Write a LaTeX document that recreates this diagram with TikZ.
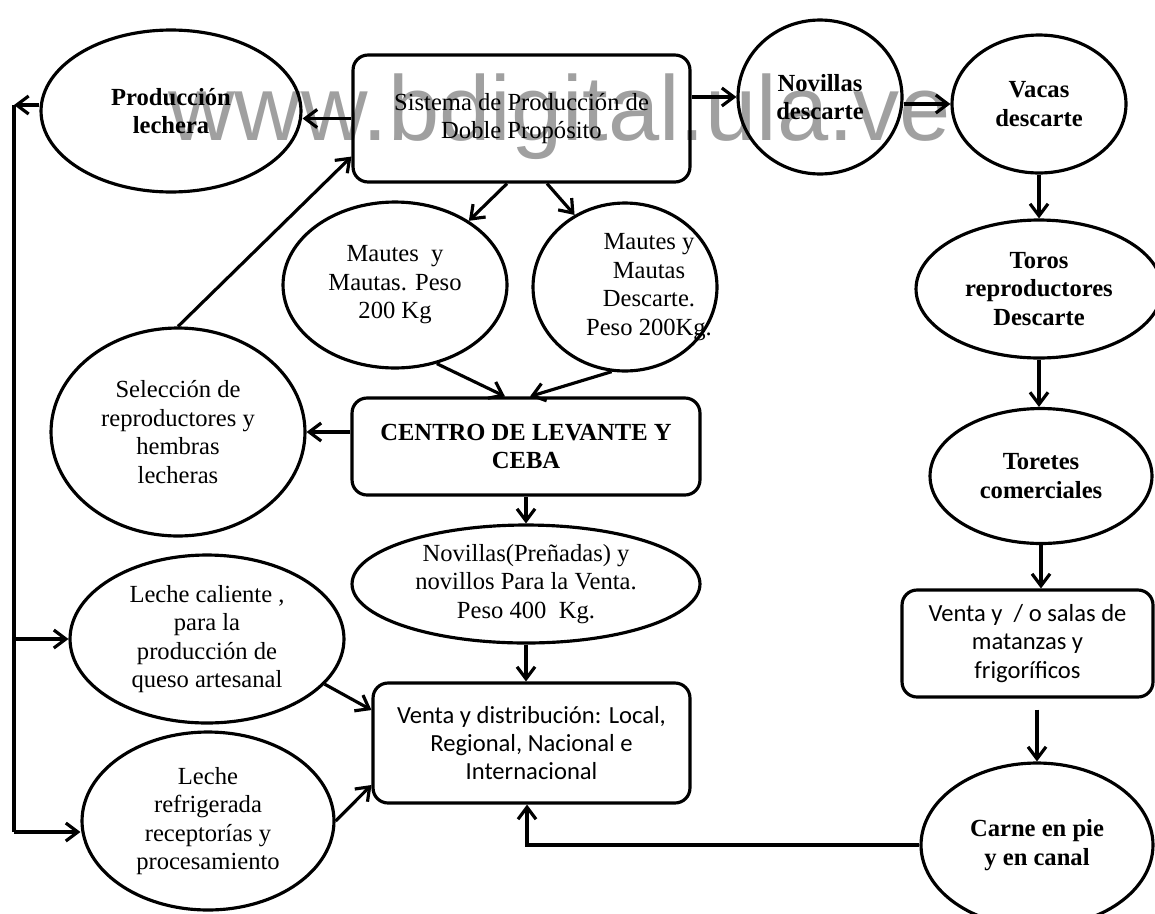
\documentclass[tikz,border=0pt]{standalone}
\usepackage{fontspec}
\setmainfont{Liberation Serif}
\newfontfamily\calfont{Carlito}
\newfontfamily\wmfont{Liberation Sans}
\usetikzlibrary{arrows.meta}
\usetikzlibrary{shapes.geometric}
\definecolor{wmgray}{RGB}{160,160,160}

\begin{document}
\begin{tikzpicture}[x=0.02cm, y=-0.02cm,
  every node/.style={font=\fontsize{14}{16.2}\selectfont, align=center},
  oval/.style={draw, ellipse, line width=1.8pt, inner sep=0pt},
  caja/.style={draw, rectangle, rounded corners=0.3cm, line width=1.8pt, inner sep=0pt},
  bold/.style={font=\fontsize{14}{16.2}\selectfont\bfseries},
  sans/.style={font=\calfont\fontsize{14}{16.2}\selectfont},
  wm/.style={text=wmgray, font=\wmfont\fontsize{52.4}{60}\selectfont, inner sep=0pt},
  flow/.style={line width=1.8pt, -{Straight Barb[length=2.4mm, width=3.6mm]}},
  bus/.style={line width=1.8pt}]
\useasboundingbox (0,0) rectangle (1155,913);

\node[wm, anchor=base west] (wmark) at (168,140) {www.bdigital.ula.ve};

\node[oval, bold, minimum width=5.2cm, minimum height=3.24cm] (prod) at (171,111) {Producción\\lechera};
\node[caja, minimum width=6.74cm, minimum height=2.54cm] (sis) at (521.5,118.5) {Sistema de Producción de\\Doble Propósito};
\node[oval, bold, minimum width=3.28cm, minimum height=3.08cm] (novd) at (820,97) {Novillas\\descarte};
\node[oval, bold, minimum width=3.48cm, minimum height=2.76cm] (vacas) at (1039,104) {Vacas\\descarte};
\node[oval, bold, minimum width=4.92cm, minimum height=2.76cm] (toros) at (1039,289) {Toros\\reproductores\\Descarte};
\node[oval, bold, minimum width=4.44cm, minimum height=2.7cm] (toretes) at (1041,476) {Toretes\\comerciales};
\node[caja, sans, minimum width=5.02cm, minimum height=2.14cm] (salas) at (1027.5,643.5) {Venta y~~/ o salas de\\matanzas y\\frigoríficos};
\node[oval, bold, minimum width=4.64cm, minimum height=3.28cm] (carne) at (1037,845) {Carne en pie\\y en canal};

\node[oval, minimum width=4.48cm, minimum height=3.32cm] (mautes) at (395,285) {Mautes~~y\\Mautas. Peso\\200 Kg};
\node[oval, minimum width=3.68cm, minimum height=3.36cm,
  label={[xshift=0.48cm]center:{Mautes y\\Mautas\\Descarte.\\Peso 200Kg.}}] (mdesc) at (625,287) {};
\node[caja, bold, minimum width=6.96cm, minimum height=1.94cm] (centro) at (526,446.5) {CENTRO DE LEVANTE Y\\CEBA};
\node[oval, minimum width=5.08cm, minimum height=4.16cm] (selec) at (178,432) {Selección de\\reproductores y\\hembras\\lecheras};
\node[oval, minimum width=6.96cm, minimum height=2.36cm] (novp) at (526,584) {Novillas(Preñadas) y\\novillos Para la Venta.\\Peso 400~~Kg.};
\node[oval, minimum width=5.48cm, minimum height=3.36cm] (lcal) at (207,639) {Leche caliente ,\\para la\\producción de\\queso artesanal};
\node[oval, minimum width=5.04cm, minimum height=3.56cm] (lref) at (208,821) {Leche\\refrigerada\\receptorías y\\procesamiento};
\node[caja, sans, minimum width=6.34cm, minimum height=2.4cm] (venta) at (531.5,743) {Venta y distribución: Local,\\Regional, Nacional e\\Internacional};

\coordinate (bt) at (14,105);
\coordinate (bb) at (14,832);

\draw[flow] (sis.west) -- (sis.west -| prod.east);
\draw[flow] (sis.east |- novd.west) -- (novd.west);
\draw[flow] (vacas.west -| novd.east) -- (vacas.west);
\draw[flow] (vacas.south) -- (toros.north);
\draw[flow] (toros.south) -- (toros.south |- toretes.north);
\draw[flow] (toretes.south) -- (toretes.south |- salas.north);
\draw[flow, shorten <=2.2mm] (salas.south -| carne.north) -- (carne.north);
\draw[flow] (carne.west) -| ([xshift=-0.09cm]venta.south);

\draw[flow] ([xshift=-0.29cm]sis.south) -- (mautes.41);
\draw[flow] ([xshift=0.51cm]sis.south) -- (mdesc.125);
\draw[flow] (mautes.-62) -- ([xshift=-0.42cm]centro.north);
\draw[flow] (mdesc.-99) -- ([xshift=0.08cm]centro.north);
\draw[flow] (selec.east -| centro.west) -- (selec.east);
\draw[flow] (selec.north) -- ([yshift=0.54cm]sis.south west);
\draw[flow] (centro.south) -- (novp.north);
\draw[flow] (novp.south) -- (novp.south |- venta.north);
\draw[flow] (lcal.-21) -- ([yshift=0.66cm]venta.west);
\draw[flow] (lref.east) -- ([yshift=-0.84cm]venta.west);

\draw[flow] (bt -| prod.west) -- (bt);
\draw[bus] (bt) -- (bb);
\draw[flow] (bt |- lcal.west) -- (lcal.west);
\draw[flow] (bb) -- (bb -| lref.west);
\end{tikzpicture}
\end{document}
